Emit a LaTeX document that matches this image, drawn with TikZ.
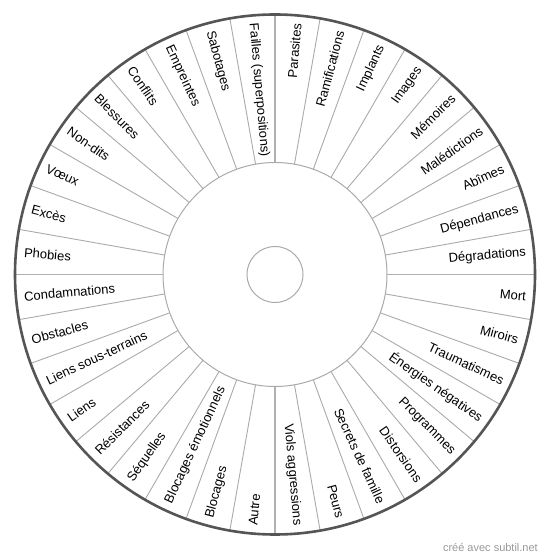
\documentclass[tikz,border=0pt]{standalone}
\usepackage{fontspec}
\setmainfont{Liberation Sans}
\definecolor{spokecol}{HTML}{AAAAAA}
\definecolor{axiscol}{HTML}{B0B0B0}
\definecolor{rimcol}{HTML}{555555}
\definecolor{markcol}{HTML}{999999}
\tikzset{
  spoke/.style={draw=spokecol, line width=0.9pt},
  axisspoke/.style={draw=axiscol, line width=1.8pt},
  rim/.style={draw=rimcol, line width=2.6pt},
  innerring/.style={draw=spokecol, line width=1pt},
  hub/.style={draw=spokecol, line width=1pt},
  lab/.style={inner sep=0pt, font=\fontsize{13}{15}\selectfont},
  creditstyle/.style={inner sep=0pt, text=markcol, font=\fontsize{11}{13}\selectfont}
}
\begin{document}
\begin{tikzpicture}[x=1pt,y=1pt]
\useasboundingbox (0,0) rectangle (550,559);
\fill[white] (0,0) rectangle (550,559);
\coordinate (c) at (275,284.5);
% spokes
\foreach \k in {0,...,35}{
  \pgfmathtruncatemacro\r{mod(\k,9)}
  \ifnum\r=0
    \draw[axisspoke] ([shift={(\k*10:112)}]c) -- ([shift={(\k*10:260)}]c);
  \else
    \draw[spoke] ([shift={(\k*10:112)}]c) -- ([shift={(\k*10:260)}]c);
  \fi
}
\draw[innerring] (c) circle (112);
\draw[hub] (c) circle (28);
\draw[rim] (c) circle (260);
% labels
\foreach \lab [count=\i from 0] in {Failles (superpositions),Parasites,Ramifications,Implants,Images,Mémoires,Malédictions,Abîmes,Dépendances,Dégradations,Mort,Miroirs,Traumatismes,Énergies négatives,Programmes,Distorsions,Secrets de famille,Peurs,Viols aggressions,Autre,Blocages,Blocages émotionnels,Séquelles,Résistances,Liens,Liens sous-terrains,Obstacles,Condamnations,Phobies,Excès,Vœux,Non-dits,Blessures,Conflits,Empreintes,Sabotages}{
  \pgfmathsetmacro\a{95-10*\i}
  \pgfmathtruncatemacro\isleft{(\a>90)||(\a<-90)}
  \ifnum\isleft=1
    \node[lab, rotate=\a+180, anchor=west] (l\i) at ([shift={(\a:252)}]c) {\lab};
  \else
    \node[lab, rotate=\a, anchor=east] (l\i) at ([shift={(\a:252)}]c) {\lab};
  \fi
}
\node[creditstyle, anchor=base east] (credit) at (538,8) {créé avec subtil.net};
\end{tikzpicture}
\end{document}
